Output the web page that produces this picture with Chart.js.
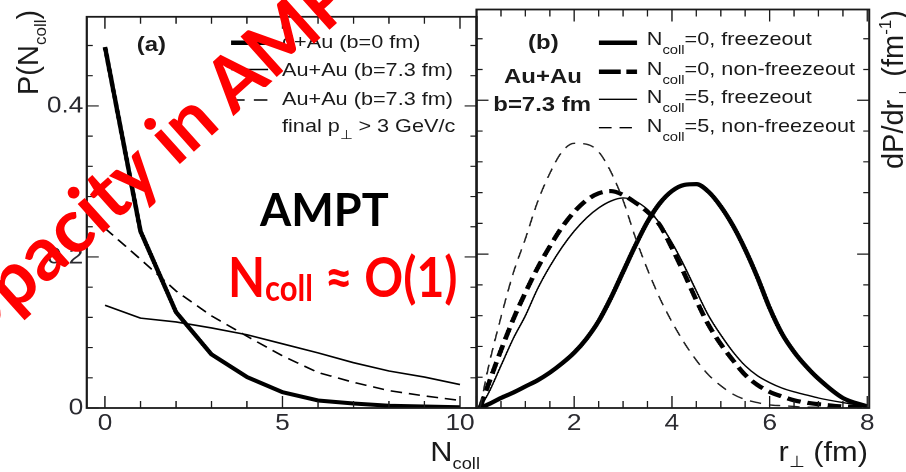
<!DOCTYPE html>
<html>
<head>
<meta charset="utf-8">
<script src="https://cdn.jsdelivr.net/npm/chart.js@4.4.1/dist/chart.umd.min.js"></script>
<style>
  html, body { margin: 0; padding: 0; background: #fff; }
  body { width: 906px; height: 472px; overflow: hidden; position: relative;
         font-family: 'Liberation Sans', Arial, sans-serif; color: #1a1a1a; }
  /* the original figure is a little wider than tall, so stretch it */
  #fig { position: absolute; left: 0; top: 0; width: 795px; height: 472px;
         transform: scaleX(1.14); transform-origin: 0 0; }
  .box { position: absolute; left: 0; top: 0; width: 795px; height: 472px; }
  .t { position: absolute; white-space: nowrap; line-height: 1; }
  .leg { font-size: 19px; }
  .bold { font-size: 21px; font-weight: bold; }
  .sub { font-size: 13px; position: relative; top: 9px; }
  .title { font-size: 27px; width: 120px; text-align: right; }
  .title .sub { font-size: 16px; top: 8px; }
  .ytitle { position: absolute; font-size: 29px; line-height: 1; white-space: nowrap;
            text-align: right; transform: rotate(-90deg); transform-origin: 0 0; }
  .ytitle .sub { font-size: 17px; top: 8px; }
  .ytitle .sup { font-size: 17px; position: relative; top: -12px; }
  .red { position: absolute; font-family: Lato, sans-serif; font-weight: 700;
         line-height: 1; white-space: nowrap; color: #ff0000; transform-origin: 0 0; }
</style>
</head>
<body>
<div id="fig">
  <div class="box"><canvas id="panelA"></canvas></div>
  <div class="box"><canvas id="panelB"></canvas></div>

  <!-- panel (a) -->
  <div class="t bold" style="left:120px; top:32.8px">(a)</div>
  <div class="t leg" style="left:247.4px; top:32.4px">d+Au (b=0 fm)</div>
  <div class="t leg" style="left:247.4px; top:60.4px">Au+Au (b=7.3 fm)</div>
  <div class="t leg" style="left:247.4px; top:89px">Au+Au (b=7.3 fm)</div>
  <div class="t leg" style="left:247.4px; top:115.7px">final p<span class="sub" style="top:7px">&perp;</span> &gt; 3 GeV/c</div>
  <div class="t title" style="left:301px; top:438.8px">N<span class="sub">coll</span></div>

  <!-- panel (b) -->
  <div class="t bold" style="left:463.2px; top:31.1px">(b)</div>
  <div class="t bold" style="left:442.1px; top:65.2px">Au+Au</div>
  <div class="t bold" style="left:432.7px; top:93.2px">b=7.3 fm</div>
  <div class="t leg" style="left:567.3px; top:28.9px">N<span class="sub">coll</span>=0, freezeout</div>
  <div class="t leg" style="left:567.3px; top:58.9px">N<span class="sub">coll</span>=0, non-freezeout</div>
  <div class="t leg" style="left:567.3px; top:87.2px">N<span class="sub">coll</span>=5, freezeout</div>
  <div class="t leg" style="left:567.3px; top:115.6px">N<span class="sub">coll</span>=5, non-freezeout</div>
  <div class="t title" style="left:641.4px; top:438.8px">r<span class="sub" style="top:6px">&perp;</span> (fm)</div>
</div>

<div class="ytitle" style="left:13.6px; top:95px; width:85px">P(N<span class="sub">coll</span>)</div>
<div class="ytitle" style="left:878.8px; top:170px; width:160px">dP/dr<span class="sub">&perp;</span> (fm<span class="sup">-1</span>)</div>

<div class="red" style="left:-76.5px; top:305.2px; font-size:75px; transform:rotate(-41.9deg)">Opacity in AMPT</div>
<div class="red" style="left:260px; top:187px; font-size:45px; color:#000">AMPT</div>
<div class="red" style="left:228px; top:248px; font-size:56px; transform:scaleX(0.86)">N<span style="font-size:36px; position:relative; top:4px">coll</span> &asymp; O(1)</div>

<script>
// (a) probability of the number of collisions
const nColl = [0, 1, 2, 3, 4, 5, 6, 7, 8, 9, 10];
const pDAu = [0.478, 0.234, 0.127, 0.071, 0.041, 0.021, 0.010, 0.006, 0.003, 0.002, 0.001];
const pAuAu = [0.136, 0.119, 0.114, 0.106, 0.097, 0.085, 0.073, 0.060, 0.049, 0.041, 0.031];
const pAuAuHighPt = [0.238, 0.197, 0.155, 0.122, 0.095, 0.069, 0.047, 0.034, 0.023, 0.016, 0.010];

// (b) radial distribution of the production point
const rPerp = [0.07, 0.25, 0.5, 0.75, 1, 1.25, 1.5, 1.75, 2, 2.25, 2.5, 2.75, 3, 3.25, 3.5, 3.75,
               4, 4.25, 4.5, 4.75, 5, 5.25, 5.5, 5.75, 6, 6.25, 6.5, 6.75, 7, 7.5, 8];
const n0Freeze = [0, 0.005, 0.013, 0.020, 0.028, 0.036, 0.046, 0.058, 0.072, 0.090, 0.113, 0.143,
                  0.177, 0.211, 0.242, 0.266, 0.282, 0.290, 0.291, 0.281, 0.262, 0.237, 0.206,
                  0.170, 0.130, 0.097, 0.073, 0.054, 0.038, 0.013, 0.002];
const n0NonFreeze = [0, 0.032, 0.075, 0.115, 0.150, 0.182, 0.210, 0.235, 0.255, 0.270, 0.279,
                     0.282, 0.277, 0.267, 0.255, 0.238, 0.208, 0.175, 0.140, 0.108, 0.083, 0.062,
                     0.043, 0.030, 0.021, 0.015, 0.010, 0.007, 0.005, 0.002, 0.001];
const n5Freeze = [0, 0.020, 0.055, 0.090, 0.120, 0.155, 0.184, 0.209, 0.230, 0.247, 0.260, 0.269,
                  0.273, 0.269, 0.258, 0.240, 0.215, 0.185, 0.152, 0.120, 0.095, 0.073, 0.055,
                  0.042, 0.033, 0.026, 0.021, 0.017, 0.013, 0.007, 0.002];
const n5NonFreeze = [0, 0.055, 0.118, 0.175, 0.220, 0.268, 0.305, 0.333, 0.344, 0.343, 0.333,
                     0.307, 0.270, 0.222, 0.180, 0.143, 0.112, 0.085, 0.062, 0.043, 0.029, 0.018,
                     0.011, 0.007, 0.004, 0.003, 0.002, 0.001, 0.001, 0, 0];

// ticks and labels
const xTicksA = [0, 1, 2, 3, 4, 5, 6, 7, 8, 9, 10];
const xLabelsA = [0, 5, 10];
const yTicks = [0, 0.04, 0.08, 0.12, 0.16, 0.2, 0.24, 0.28, 0.32, 0.36, 0.4, 0.44, 0.48];
const yLabelsA = [0, 0.2, 0.4];
const xTicksB = [0, 0.5, 1, 1.5, 2, 2.5, 3, 3.5, 4, 4.5, 5, 5.5, 6, 6.5, 7, 7.5, 8];
const xLabelsB = [2, 4, 6, 8];

const tickFont = { family: "'Liberation Sans', Arial, sans-serif", size: 23 };

function points(xs, ys) {
    return xs.map((x, i) => ({ x: x, y: ys[i] }));
}

function useTicks(vals) {
    return (scale) => { scale.ticks = vals.map(v => ({ value: v })); };
}

function labelsOnly(list) {
    return (v) => list.includes(v) ? String(v) : '';
}

// frame with inward ticks on all four sides, plus the legend line samples
const frameTicks = {
    id: 'frameTicks',
    afterDraw(chart, args, opts) {
        const { ctx, chartArea: a, scales: { x, y } } = chart;
        ctx.save();
        ctx.strokeStyle = '#1a1a1a';
        ctx.lineWidth = 1.2;
        ctx.beginPath();
        x.ticks.forEach(t => {
            const px = x.getPixelForValue(t.value);
            const len = opts.xMajor.includes(t.value) ? 12 : 7;
            ctx.moveTo(px, a.bottom);
            ctx.lineTo(px, a.bottom - len);
            ctx.moveTo(px, a.top);
            ctx.lineTo(px, a.top + len);
        });
        y.ticks.forEach(t => {
            const py = y.getPixelForValue(t.value);
            const len = opts.yMajor.includes(t.value) ? 10.5 : 5.3;
            ctx.moveTo(a.left, py);
            ctx.lineTo(a.left + len, py);
            ctx.moveTo(a.right, py);
            ctx.lineTo(a.right - len, py);
        });
        ctx.stroke();
        ctx.lineWidth = 1.8;
        ctx.strokeRect(a.left, a.top, a.right - a.left, a.bottom - a.top);

        ctx.strokeStyle = '#000';
        opts.samples.forEach(s => {
            ctx.lineWidth = s.w;
            ctx.setLineDash(s.dash || []);
            ctx.beginPath();
            ctx.moveTo(s.x1, s.y);
            ctx.lineTo(s.x2, s.y);
            ctx.stroke();
        });
        ctx.restore();
    }
};

function axes(opts) {
    return {
        x: {
            type: 'linear', min: opts.xMin, max: opts.xMax,
            afterBuildTicks: useTicks(opts.xTicks),
            afterFit: (s) => { s.height = 64; },
            grid: { display: false, drawTicks: false },
            border: { display: false },
            ticks: { autoSkip: false, maxRotation: 0, padding: 2, font: tickFont, color: '#2a2a30',
                     callback: labelsOnly(opts.xLabels) }
        },
        y: {
            type: 'linear', min: 0, max: 0.518,
            afterBuildTicks: useTicks(yTicks),
            afterFit: (s) => { s.width = opts.yWidth; },
            grid: { display: false, drawTicks: false },
            border: { display: false },
            ticks: { display: opts.yLabels.length > 0, autoSkip: false, padding: 3, font: tickFont,
                     color: '#2a2a30', callback: labelsOnly(opts.yLabels) }
        }
    };
}

const common = {
    responsive: true,
    maintainAspectRatio: false,
    animation: false,
    devicePixelRatio: 2,
    elements: { point: { radius: 0 }, line: { fill: false, borderColor: '#000', borderJoinStyle: 'round' } },
};

new Chart(document.getElementById('panelA'), {
    type: 'line',
    data: {
        datasets: [
            { data: points(nColl, pDAu), borderWidth: 4, tension: 0 },
            { data: points(nColl, pAuAu), borderWidth: 1.6, tension: 0 },
            { data: points(nColl, pAuAuHighPt), borderWidth: 1.6, borderDash: [10, 6], tension: 0 },
        ],
    },
    options: {
        ...common,
        layout: { padding: { left: 0, top: 9.5, right: 377, bottom: 0 } },
        plugins: {
            legend: { display: false },
            tooltip: { enabled: false },
            frameTicks: {
                xMajor: xLabelsA, yMajor: yLabelsA,
                samples: [
                    { x1: 202.6, x2: 235.1, y: 42.7, w: 4.5 },
                    { x1: 202.6, x2: 235.1, y: 69.5, w: 1.6 },
                    { x1: 202.6, x2: 235.1, y: 100, w: 1.6, dash: [12, 8] },
                ],
            },
        },
        scales: axes({ xMin: -0.515, xMax: 10.466, xTicks: xTicksA, xLabels: xLabelsA,
                       yWidth: 76.05, yLabels: yLabelsA }),
    },
    plugins: [frameTicks],
});

new Chart(document.getElementById('panelB'), {
    type: 'line',
    data: {
        datasets: [
            { data: points(rPerp, n5NonFreeze), borderWidth: 1.4, borderDash: [10, 7], borderColor: '#222' },
            { data: points(rPerp, n5Freeze), borderWidth: 1.4 },
            { data: points(rPerp, n0NonFreeze), borderWidth: 4.2, borderDash: [12, 6] },
            { data: points(rPerp, n0Freeze), borderWidth: 4.2 },
        ],
    },
    options: {
        ...common,
        datasets: { line: { cubicInterpolationMode: 'monotone' } },
        layout: { padding: { left: 0, top: 9.5, right: 32.5, bottom: 0 } },
        plugins: {
            legend: { display: false },
            tooltip: { enabled: false },
            frameTicks: {
                xMajor: xLabelsB.concat([0]), yMajor: yLabelsA,
                samples: [
                    { x1: 525.4, x2: 558.8, y: 42.7, w: 4.5 },
                    { x1: 525.4, x2: 558.8, y: 71.7, w: 4.5, dash: [19, 5] },
                    { x1: 525.4, x2: 558.8, y: 99.3, w: 1.4 },
                    { x1: 525.4, x2: 558.8, y: 127.7, w: 1.4, dash: [11, 7] },
                ],
            },
        },
        scales: axes({ xMin: 0, xMax: 8.04, xTicks: xTicksB, xLabels: xLabelsB,
                       yWidth: 418, yLabels: [] }),
    },
    plugins: [frameTicks],
});
</script>
</body>
</html>
